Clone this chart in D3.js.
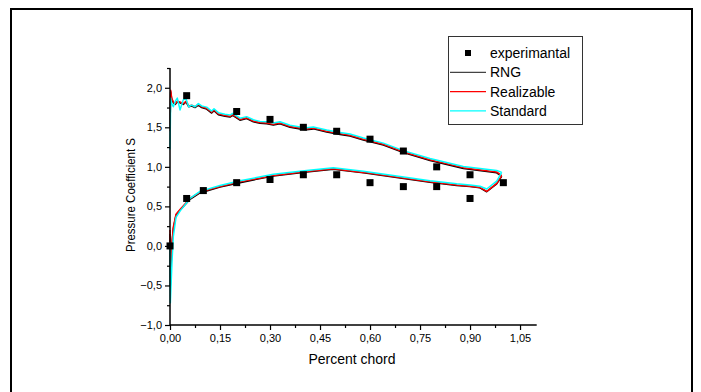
<!DOCTYPE html>
<meta charset="utf-8">
<style>
body { margin: 0; background: #fff; }
text { font-family: "Liberation Sans", Arial, sans-serif; fill: #000; }
.tick-label { font-size: 11px; }
.axis-title { font-size: 14px; }
.legend text { font-size: 14px; }
</style>
<body>
<script src="https://d3js.org/d3.v7.min.js"></script>
<script>

// experimental points
var expX     = [0.05, 0.2, 0.3, 0.4, 0.5, 0.6, 0.7, 0.8, 0.9, 0, 0.05, 0.1, 0.2, 0.3, 0.4, 0.5, 0.6, 0.7, 0.8, 0.9, 1.0];
var expCp    = [1.9, 1.7, 1.6, 1.5, 1.45, 1.35, 1.2, 1.0, 0.9, 0, 0.6, 0.7, 0.8, 0.84, 0.9, 0.9, 0.8, 0.75, 0.75, 0.6, 0.8];

// upper surface
var xUpper   = [0, 0.002, 0.005, 0.01, 0.016, 0.022, 0.03, 0.04, 0.048, 0.056, 0.065, 0.075, 0.085, 0.095,
                0.11, 0.125, 0.132, 0.145, 0.165, 0.18, 0.188, 0.21, 0.23, 0.25, 0.27, 0.29, 0.31, 0.33,
                0.36, 0.39, 0.41, 0.43, 0.47, 0.51, 0.54, 0.58, 0.64, 0.70, 0.78, 0.88, 0.98, 0.995];
var rngUpper = [1.5, 1.95, 1.86, 1.81, 1.79, 1.82, 1.81, 1.79, 1.82, 1.76, 1.77, 1.75, 1.78, 1.75,
                1.73, 1.68, 1.71, 1.66, 1.64, 1.63, 1.65, 1.59, 1.61, 1.57, 1.55, 1.545, 1.53, 1.545,
                1.50, 1.48, 1.47, 1.48, 1.44, 1.41, 1.39, 1.34, 1.275, 1.18, 1.08, 0.98, 0.925, 0.88];
var realUpper = [1.45, 1.97, 1.87, 1.82, 1.80, 1.83, 1.82, 1.80, 1.83, 1.77, 1.78, 1.76, 1.79, 1.76,
                1.74, 1.69, 1.72, 1.67, 1.65, 1.64, 1.66, 1.60, 1.62, 1.58, 1.56, 1.555, 1.54, 1.555,
                1.51, 1.49, 1.48, 1.49, 1.45, 1.42, 1.40, 1.35, 1.285, 1.19, 1.09, 0.99, 0.935, 0.89];
var stdUpper = [1.22, 1.87, 1.80, 1.76, 1.83, 1.87, 1.72, 1.85, 1.86, 1.76, 1.78, 1.76, 1.80, 1.77,
                1.755, 1.705, 1.735, 1.685, 1.665, 1.655, 1.675, 1.615, 1.635, 1.595, 1.575, 1.57, 1.555, 1.57,
                1.525, 1.505, 1.495, 1.505, 1.465, 1.435, 1.415, 1.365, 1.30, 1.205, 1.105, 1.005, 0.955, 0.93];

// lower surface
var xLower   = [0, 0.001, 0.006, 0.01, 0.018, 0.03, 0.06, 0.09, 0.15, 0.21, 0.31, 0.41, 0.49,
                0.58, 0.68, 0.78, 0.86, 0.90, 0.93, 0.95, 0.98, 0.995];
var rngLower = [0.15, -0.5, 0.03, 0.22, 0.39, 0.45, 0.59, 0.67, 0.745, 0.80, 0.885, 0.935, 0.97,
                0.925, 0.865, 0.805, 0.765, 0.75, 0.735, 0.685, 0.785, 0.88];
var realLower = [0.2, -0.3, 0.05, 0.24, 0.40, 0.46, 0.60, 0.68, 0.75, 0.81, 0.89, 0.94, 0.975,
                0.93, 0.87, 0.81, 0.77, 0.755, 0.74, 0.69, 0.79, 0.89];
var stdLower = [0.05, -0.72, -0.2, 0.12, 0.36, 0.44, 0.60, 0.69, 0.765, 0.825, 0.905, 0.955, 0.99,
                0.945, 0.885, 0.825, 0.785, 0.77, 0.755, 0.72, 0.82, 0.93];

var xTicks = [0, 0.15, 0.30, 0.45, 0.60, 0.75, 0.90, 1.05];
var yTicks = [-1.0, -0.5, 0, 0.5, 1.0, 1.5, 2.0];

var series = [
  {name: "RNG", color: "#000000", legendColor: "#444", upper: rngUpper, lower: rngLower},
  {name: "Realizable", color: "#ff0000", legendColor: "#ff0000", upper: realUpper, lower: realLower},
  {name: "Standard", color: "#00ffff", legendColor: "#00ffff", upper: stdUpper, lower: stdLower}
];

var width = 701, height = 392;

var svg = d3.select("body").append("svg")
    .attr("width", width)
    .attr("height", height);

// outer frame
svg.append("rect")
    .attr("x", 11).attr("y", 9)
    .attr("width", 681).attr("height", 400)
    .attr("fill", "none")
    .attr("stroke", "#000")
    .attr("stroke-width", 2);

var x = d3.scaleLinear().domain([0, 1.1]).range([170, 536.7]);
var y = d3.scaleLinear().domain([-1, 2.25]).range([325, 68]);

var comma = function(n) { return function(v) { return d3.format("." + n + "f")(v).replace(".", ","); }; };

var line = d3.line()
    .x(function(d) { return x(d[0]); })
    .y(function(d) { return y(d[1]); });

var plot = svg.append("g");

series.forEach(function(s) {
  [[xUpper, s.upper], [xLower, s.lower]].forEach(function(part) {
    plot.append("path")
        .datum(d3.zip(part[0], part[1]))
        .attr("d", line)
        .attr("fill", "none")
        .attr("stroke", s.color)
        .attr("stroke-width", 1.5)
        .attr("stroke-linejoin", "round");
  });
});

plot.selectAll("rect.exp")
    .data(d3.zip(expX, expCp))
  .enter().append("rect")
    .attr("class", "exp")
    .attr("x", function(d) { return x(d[0]) - 3.5; })
    .attr("y", function(d) { return y(d[1]) - 3.5; })
    .attr("width", 7)
    .attr("height", 7)
    .attr("fill", "#000");

// axes
var xAxis = d3.axisBottom(x).tickValues(xTicks).tickFormat(comma(2)).tickSize(5).tickPadding(4);
var yAxis = d3.axisLeft(y).tickValues(yTicks).tickFormat(comma(1)).tickSize(5).tickPadding(3);

var gx = svg.append("g").attr("transform", "translate(0," + y(-1) + ")").call(xAxis);
var gy = svg.append("g").attr("transform", "translate(" + x(0) + ",0)").call(yAxis);

[gx, gy].forEach(function(g) {
  g.select(".domain").attr("stroke", "#000").attr("stroke-width", 1.5);
  g.selectAll(".tick line").attr("stroke", "#000").attr("stroke-width", 1.2);
  g.selectAll(".tick text").attr("class", "tick-label").attr("font-family", null).attr("font-size", null);
});
gx.select(".domain").attr("d", "M" + x(0) + ",0H" + x(1.1));
gy.select(".domain").attr("d", "M0," + y(-1) + "V" + y(2.25));

// minor ticks
var gxMinor = svg.append("g").attr("transform", "translate(0," + y(-1) + ")")
    .call(d3.axisBottom(x).tickValues(d3.range(0.075, 1.1, 0.15)).tickSize(3).tickFormat(""));
var gyMinor = svg.append("g").attr("transform", "translate(" + x(0) + ",0)")
    .call(d3.axisLeft(y).tickValues(d3.range(-0.75, 2.26, 0.5)).tickSize(3).tickFormat(""));
[gxMinor, gyMinor].forEach(function(g) {
  g.select(".domain").remove();
  g.selectAll(".tick line").attr("stroke", "#000").attr("stroke-width", 1.2);
});

svg.append("text")
    .attr("class", "axis-title")
    .attr("x", 352).attr("y", 364)
    .attr("text-anchor", "middle")
    .text("Percent chord");

svg.append("text")
    .attr("class", "axis-title")
    .attr("transform", "translate(135,195) rotate(-90)")
    .attr("text-anchor", "middle")
    .attr("textLength", 114)
    .attr("lengthAdjust", "spacingAndGlyphs")
    .style("font-size", "13.5px")
    .text("Pressure Coefficient S");

// legend
var legend = svg.append("g").attr("class", "legend");
legend.append("rect")
    .attr("x", 448.5).attr("y", 36.5)
    .attr("width", 134).attr("height", 88)
    .attr("fill", "#fff")
    .attr("stroke", "#333")
    .attr("stroke-width", 1);

var legendItems = [{name: "experimantal", legendColor: "#000", marker: true}].concat(series);

var item = legend.selectAll("g.item")
    .data(legendItems)
  .enter().append("g")
    .attr("class", "item")
    .attr("transform", function(d, i) { return "translate(0," + (53 + i * 19.3) + ")"; });

item.filter(function(d) { return d.marker; }).append("rect")
    .attr("x", 465).attr("y", -3).attr("width", 6).attr("height", 6)
    .attr("fill", "#000");

item.filter(function(d) { return !d.marker; }).append("line")
    .attr("x1", 450).attr("x2", 486)
    .attr("stroke", function(d) { return d.legendColor; })
    .attr("stroke-width", 1.2);

item.append("text")
    .attr("x", 490).attr("dy", "0.35em")
    .text(function(d) { return d.name; });

</script>
</body>
